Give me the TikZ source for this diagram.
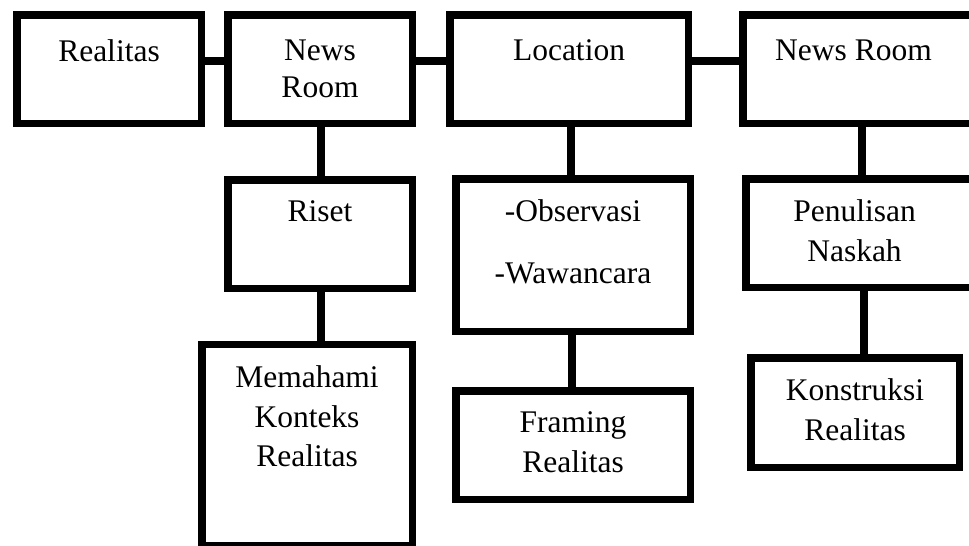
\documentclass[tikz,border=0pt]{standalone}
\usepackage{fontspec}
\setmainfont{Liberation Serif}
\usepackage{tikz}

\begin{document}
\begin{tikzpicture}[x=1pt,y=-1pt,
    box/.style={draw,rectangle,line width=7.5pt,inner sep=0pt},
    txt/.style={anchor=north,align=center,inner sep=0pt,font=\fontsize{31.5}{39.5}\selectfont},
    link/.style={line width=7.5pt}]
                \def\tg{28.5} % text gap in the top row
                \def\lg{24.5} % text gap in the lower rows
                % Page frame, the right boxes run off the page
                \useasboundingbox (0,0) rectangle (969,546);
                \clip (0,0) rectangle (969,546);
                % Top row
                \node[box,minimum width=184.5pt,minimum height=108.5pt,label={[txt,label distance=-\tg pt]north:Realitas}] (realitas) at (109,69) {};
                \node[box,minimum width=184.5pt,minimum height=108.5pt,label={[txt,label distance=-\tg pt]north:{News\\[-2pt]Room}}] (room1) at (320,69) {};
                \node[box,minimum width=238.5pt,minimum height=108.5pt,label={[txt,label distance=-\tg pt]north:Location}] (location) at (569,69) {};
                \node[box,minimum width=242.5pt,minimum height=108.5pt,label={[txt,label distance=-\tg pt,xshift=-10.5pt]north:News Room}] (room2) at (864,69) {};
                % Middle row
                \node[box,minimum width=184.5pt,minimum height=108.5pt,label={[txt,label distance=-\lg pt]north:Riset}] (riset) at (320,234) {};
                \node[box,minimum width=234.5pt,minimum height=152.5pt,label={[txt,label distance=-\lg pt]north:{-Observasi\\[22.5pt]-Wawancara}}] (observasi) at (573,255) {};
                \node[box,minimum width=236.5pt,minimum height=108.5pt,label={[txt,label distance=-\lg pt,xshift=-9.5pt]north:{Penulisan\\Naskah}}] (penulisan) at (864,233) {};
                % Bottom row
                \node[box,minimum width=210.5pt,minimum height=200.75pt,label={[txt,label distance=-\lg pt]north:{Memahami\\Konteks\\Realitas}}] (memahami) at (307,445.1) {};
                \node[box,minimum width=234.5pt,minimum height=108.5pt,label={[txt,label distance=-\lg pt]north:{Framing\\Realitas}}] (framing) at (573,445) {};
                \node[box,minimum width=208.5pt,minimum height=109.5pt,label={[txt,label distance=-\lg pt]north:{Konstruksi\\Realitas}}] (konstruksi) at (855,412.5) {};
                % Links along the top row
                \draw[link] ([yshift=8pt]realitas.east) -- ([yshift=8pt]room1.west);
                \draw[link] ([yshift=8pt]room1.east) -- ([yshift=8pt]location.west);
                \draw[link] ([yshift=8pt]location.east) -- ([yshift=8pt]room2.west);
                % Links down each column
                \draw[link] ([xshift=1pt]room1.south) -- ([xshift=1pt]riset.north);
                \draw[link] ([xshift=1pt]riset.south) -- ([xshift=14pt]memahami.north);
                \draw[link] ([xshift=2pt]location.south) -- ([xshift=-2pt]observasi.north);
                \draw[link] ([xshift=-1pt]observasi.south) -- ([xshift=-1pt]framing.north);
                \draw[link] ([xshift=-2pt]room2.south) -- ([xshift=-2pt]penulisan.north);
                \draw[link] (penulisan.south) -- ([xshift=9pt]konstruksi.north);
            \end{tikzpicture}
\end{document}
